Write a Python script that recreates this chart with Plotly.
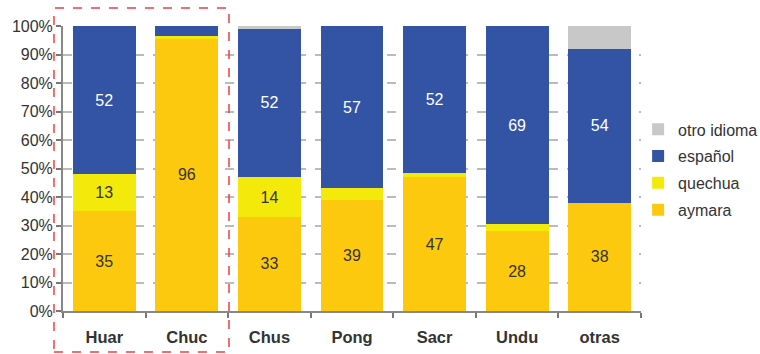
import plotly.graph_objects as go

categories = ["Huar", "Chuc", "Chus", "Pong", "Sacr", "Undu", "otras"]
aymara = [35, 95.6, 33, 39, 47, 28, 38]
quechua = [13, 0.8, 14, 4, 1.3, 2.5, 0]
espanol = [52, 3.6, 52, 57, 51.7, 69.5, 54]
otro = [0, 0, 1, 0, 0, 0, 8]

aymara_lbl = ["35", "96", "33", "39", "47", "28", "38"]
quechua_lbl = ["13", "", "14", "", "", "", ""]
espanol_lbl = ["52", "", "52", "57", "52", "69", "54"]

series = [
    ("aymara", aymara, aymara_lbl, "#FDC90F", "#333333", 4),
    ("quechua", quechua, quechua_lbl, "#F3EA0C", "#333333", 3),
    ("español", espanol, espanol_lbl, "#3354A5", "#FFFFFF", 2),
    ("otro idioma", otro, None, "#C8C8C8", "#333333", 1),
]

FONT = "Liberation Sans, Arial"

fig = go.Figure()
for name, vals, lbl, color, tcolor, rank in series:
    fig.add_trace(go.Bar(
        name=name, x=categories, y=vals, legendgroup=name, legendrank=rank,
        marker=dict(color=color, line=dict(width=0)),
        text=lbl if lbl else None,
        textposition="inside", insidetextanchor="middle",
        textangle=0,
        textfont=dict(color=tcolor, size=16, family=FONT),
        hoverinfo="skip",
    ))

fig.update_layout(
    barmode="stack",
    bargap=0.24,
    width=760, height=354,
    margin=dict(l=63, r=119, t=26, b=43, autoexpand=False),
    paper_bgcolor="white", plot_bgcolor="white",
    font=dict(family=FONT, size=16, color="#333333"),
    legend=dict(
        traceorder="grouped",
        x=0.995, y=0.697, xanchor="left", yanchor="top",
        font=dict(size=16, color="#333333", family=FONT),
        itemwidth=30,
        tracegroupgap=3,
        bgcolor="rgba(0,0,0,0)",
    ),
    showlegend=True,
)

fig.update_yaxes(
    range=[0, 100], dtick=10,
    ticksuffix="%",
    showgrid=True, gridcolor="#BBBBBB", griddash="dash", gridwidth=1.5,
    showline=True, linecolor="#888888", linewidth=2,
    ticks="outside", ticklen=5, tickcolor="#777777", tickwidth=1.5,
    zeroline=False,
    tickfont=dict(size=16, color="#333333", family=FONT),
)
fig.update_xaxes(
    range=[-0.5, 6.5],
    showline=True, linecolor="#888888", linewidth=2,
    ticks="outside", tickson="boundaries", ticklen=5, tickcolor="#777777", tickwidth=1.5,
    tickfont=dict(size=16.5, color="#333333", family=FONT),
    ticklabelstandoff=10,
    tickvals=categories,
    ticktext=[f"<b>{c}</b>" for c in categories],
)

fig.add_shape(
    type="rect", xref="paper", yref="paper",
    x0=-0.0156, x1=0.2872, y0=-0.144, y1=1.063,
    line=dict(color="#F04040", width=1.5, dash="dash"),
    fillcolor="rgba(0,0,0,0)", layer="above",
)

fig.write_html("out.html", config={"displayModeBar": False},
               post_script="document.body.style.margin='0';")
